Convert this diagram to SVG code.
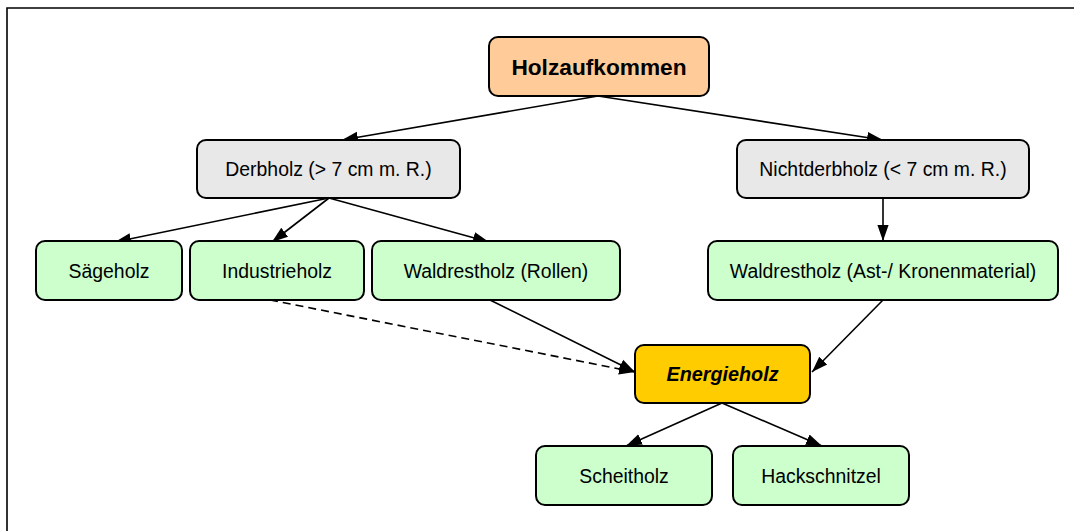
<svg xmlns="http://www.w3.org/2000/svg" width="1074" height="531" viewBox="0 0 1074 531">
<style>
.box{stroke:#000;stroke-width:2}
.g{fill:#CCFFCC}
.gr{fill:#E8E8E8}
.t{font-family:"Liberation Sans",Arial,sans-serif;font-size:19.4px;fill:#000;text-anchor:middle;dominant-baseline:central}
.c{stroke:#000;stroke-width:1.6;fill:none}
</style>
<defs>
<marker id="ab" viewBox="0 0 10 10" refX="10" refY="5" markerWidth="16" markerHeight="16" markerUnits="userSpaceOnUse" orient="auto">
<path d="M0,1.5 L10,5 L0,8.5 z" fill="#000"/>
</marker>
</defs>
<rect width="1074" height="531" fill="#fff"/>
<path d="M7,540 L7,8 L1080,8" stroke="#000" stroke-width="1.6" fill="none"/>
<g id="connectors">
<line class="c" x1="598" y1="96" x2="342" y2="140" marker-end="url(#ab)"/>
<line class="c" x1="598" y1="96" x2="883" y2="140" marker-end="url(#ab)"/>
<line class="c" x1="329" y1="198" x2="115" y2="242" marker-end="url(#ab)"/>
<line class="c" x1="329" y1="198" x2="272" y2="242" marker-end="url(#ab)"/>
<line class="c" x1="329" y1="198" x2="489" y2="242" marker-end="url(#ab)"/>
<line class="c" x1="883" y1="198" x2="883" y2="241" marker-end="url(#ab)"/>
<line class="c" x1="270" y1="300" x2="635" y2="372" stroke-dasharray="8,5" marker-end="url(#ab)"/>
<line class="c" x1="490" y1="300" x2="635" y2="372" marker-end="url(#ab)"/>
<line class="c" x1="883" y1="300" x2="812" y2="372" marker-end="url(#ab)"/>
<line class="c" x1="722" y1="403" x2="626" y2="446" marker-end="url(#ab)"/>
<line class="c" x1="722" y1="403" x2="822" y2="446" marker-end="url(#ab)"/>
</g>
<g id="holzaufkommen">
<rect class="box" x="489" y="37" width="220" height="59" rx="9" fill="#FFCC99"/>
<text class="t" x="599" y="67" style="font-size:22.7px;font-weight:bold">Holzaufkommen</text>
</g>
<g id="derbholz">
<rect class="box gr" x="197" y="140" width="263" height="58" rx="9"/>
<text class="t" x="328.5" y="169">Derbholz (&gt; 7 cm m. R.)</text>
</g>
<g id="nichtderbholz">
<rect class="box gr" x="737" y="140" width="292" height="58" rx="9"/>
<text class="t" x="883" y="169">Nichtderbholz (&lt; 7 cm m. R.)</text>
</g>
<g id="saegeholz">
<rect class="box g" x="36" y="241" width="146" height="59" rx="9"/>
<text class="t" x="109" y="271">Sägeholz</text>
</g>
<g id="industrieholz">
<rect class="box g" x="190" y="241" width="174" height="59" rx="9"/>
<text class="t" x="277" y="271">Industrieholz</text>
</g>
<g id="waldrestholz-rollen">
<rect class="box g" x="372" y="241" width="248" height="59" rx="9"/>
<text class="t" x="496" y="271">Waldrestholz (Rollen)</text>
</g>
<g id="waldrestholz-ast">
<rect class="box g" x="708" y="241" width="350" height="59" rx="9"/>
<text class="t" x="883" y="271">Waldrestholz (Ast-/ Kronenmaterial)</text>
</g>
<g id="energieholz">
<rect class="box" x="635" y="345" width="175" height="58" rx="9" fill="#FFCC00"/>
<text class="t" x="722.5" y="374" style="font-size:19.8px;font-weight:bold;font-style:italic">Energieholz</text>
</g>
<g id="scheitholz">
<rect class="box g" x="536" y="446" width="176" height="59" rx="9"/>
<text class="t" x="624" y="476">Scheitholz</text>
</g>
<g id="hackschnitzel">
<rect class="box g" x="733" y="446" width="176" height="59" rx="9"/>
<text class="t" x="821" y="476">Hackschnitzel</text>
</g>
</svg>
